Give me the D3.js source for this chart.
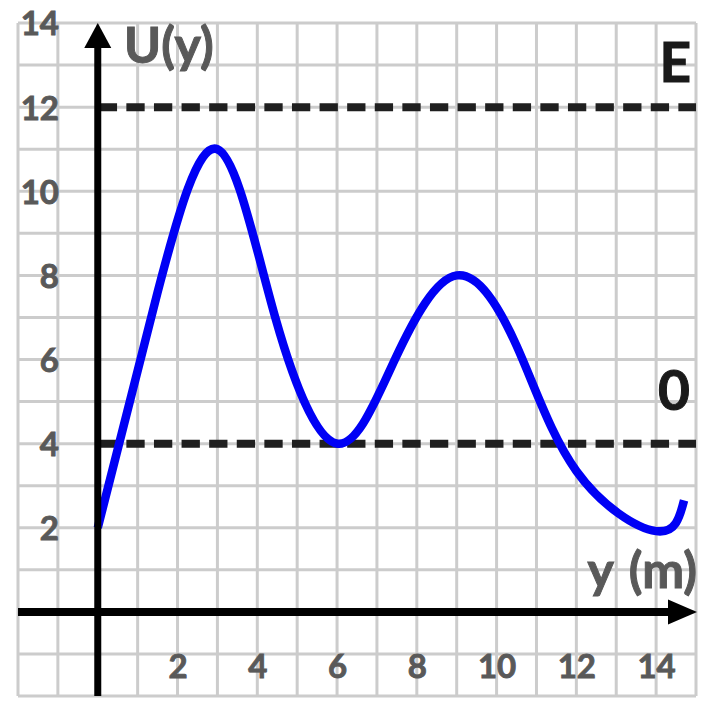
<!DOCTYPE html>
<html>
<head>
<meta charset="utf-8">
<script src="https://cdn.jsdelivr.net/npm/d3@7"></script>
<style>
  html, body { margin: 0; padding: 0; background: #fff; }
  svg { display: block; }
  text { font-family: Lato, "Open Sans", sans-serif; font-weight: 700; }
</style>
</head>
<body>
<svg id="chart" width="722" height="714"></svg>
<script>
// ---- data ----
const positionY = [0, 1.5, 3, 4.45, 6, 7.45, 9, 10.5, 12, 14, 14.7];
const potentialU = [2, 7.6, 11, 7, 4, 6, 8, 6.33, 3.35, 1.92, 2.65];
const xTickLabels = [2, 4, 6, 8, 10, 12, 14];
const yTickLabels = [2, 4, 6, 8, 10, 12, 14];
const levelE = 12;
const levelO = 4;
const levelLabels = ["E", "0"];

// ---- layout ----
const svg = d3.select("#chart");
const x = d3.scaleLinear().domain([-2, 15]).range([18, 696]);
const y = d3.scaleLinear().domain([-2, 14]).range([696, 23]);

// grid
const grid = svg.append("g").attr("stroke", "#cccccc").attr("stroke-width", 3);
grid.selectAll("line.v").data(d3.range(-2, 16)).join("line")
  .attr("class", "v")
  .attr("x1", d => x(d)).attr("x2", d => x(d))
  .attr("y1", y(-2)).attr("y2", y(14));
grid.selectAll("line.h").data(d3.range(-2, 15)).join("line")
  .attr("class", "h")
  .attr("y1", d => y(d)).attr("y2", d => y(d))
  .attr("x1", x(-2)).attr("x2", x(15));

// dashed energy levels
svg.selectAll("line.level").data([levelE, levelO]).join("line")
  .attr("class", "level")
  .attr("x1", x(0) + 1).attr("x2", x(15))
  .attr("y1", d => y(d)).attr("y2", d => y(d))
  .attr("stroke", "#1f1f1f").attr("stroke-width", 8)
  .attr("stroke-dasharray", "18.3 9.3");

// curve
const line = d3.line()
  .x((d, i) => x(positionY[i]))
  .y(d => y(d))
  .curve(d3.curveNatural);
svg.append("path")
  .datum(potentialU)
  .attr("d", line)
  .attr("fill", "none")
  .attr("stroke", "#0000f5")
  .attr("stroke-width", 8.5)
  .attr("stroke-linejoin", "round");

// axes lines with arrows
svg.append("line")
  .attr("x1", x(0)).attr("x2", x(0))
  .attr("y1", y(-2)).attr("y2", 46)
  .attr("stroke", "#000").attr("stroke-width", 7);
svg.append("path")
  .attr("d", `M${x(0)},23 L${x(0) + 13.5},48 L${x(0) - 13.5},48 Z`)
  .attr("fill", "#000");
svg.append("line")
  .attr("x1", x(-2)).attr("x2", 670)
  .attr("y1", y(0)).attr("y2", y(0))
  .attr("stroke", "#000").attr("stroke-width", 8);
svg.append("path")
  .attr("d", `M697,${y(0)} L668,${y(0) - 12.5} L668,${y(0) + 12.5} Z`)
  .attr("fill", "#000");

// tick labels via axes
const yAxis = svg.append("g")
  .attr("transform", "translate(59,0)")
  .call(d3.axisLeft(y).tickValues(yTickLabels).tickSize(0).tickPadding(0));
yAxis.select(".domain").remove();
yAxis.selectAll("text")
  .attr("font-size", 33).attr("fill", "#595959")
  .attr("stroke", "#595959").attr("stroke-width", 0.9)
  .attr("dy", "0.36em")
  .style("font-family", "Lato, sans-serif").style("font-weight", 700);

const xAxis = svg.append("g")
  .attr("transform", "translate(0,678)")
  .call(d3.axisBottom(x).tickValues(xTickLabels).tickSize(0).tickPadding(0));
xAxis.select(".domain").remove();
xAxis.selectAll("text")
  .attr("font-size", 33).attr("fill", "#595959")
  .attr("stroke", "#595959").attr("stroke-width", 0.9)
  .attr("dy", "0")
  .style("font-family", "Lato, sans-serif").style("font-weight", 700);

// axis titles
svg.append("text").attr("x", 124).attr("y", 63)
  .attr("font-size", 50).attr("fill", "#595959")
  .attr("stroke", "#595959").attr("stroke-width", 1)
  .text("U(y)");
svg.append("text").attr("x", 697).attr("y", 588)
  .attr("text-anchor", "end")
  .attr("font-size", 50).attr("fill", "#595959")
  .attr("stroke", "#595959").attr("stroke-width", 1)
  .attr("word-spacing", 4)
  .text("y (m)");

// level labels
svg.append("text").attr("x", 691).attr("y", y(levelE) - 25)
  .attr("text-anchor", "end").attr("font-size", 55).attr("fill", "#1a1a1a")
  .attr("stroke", "#1a1a1a").attr("stroke-width", 1).text(levelLabels[0]);
svg.append("text").attr("x", 690).attr("y", y(levelO) - 34)
  .attr("text-anchor", "end").attr("font-size", 55).attr("fill", "#1a1a1a")
  .attr("stroke", "#1a1a1a").attr("stroke-width", 1).text(levelLabels[1]);
</script>
</body>
</html>
